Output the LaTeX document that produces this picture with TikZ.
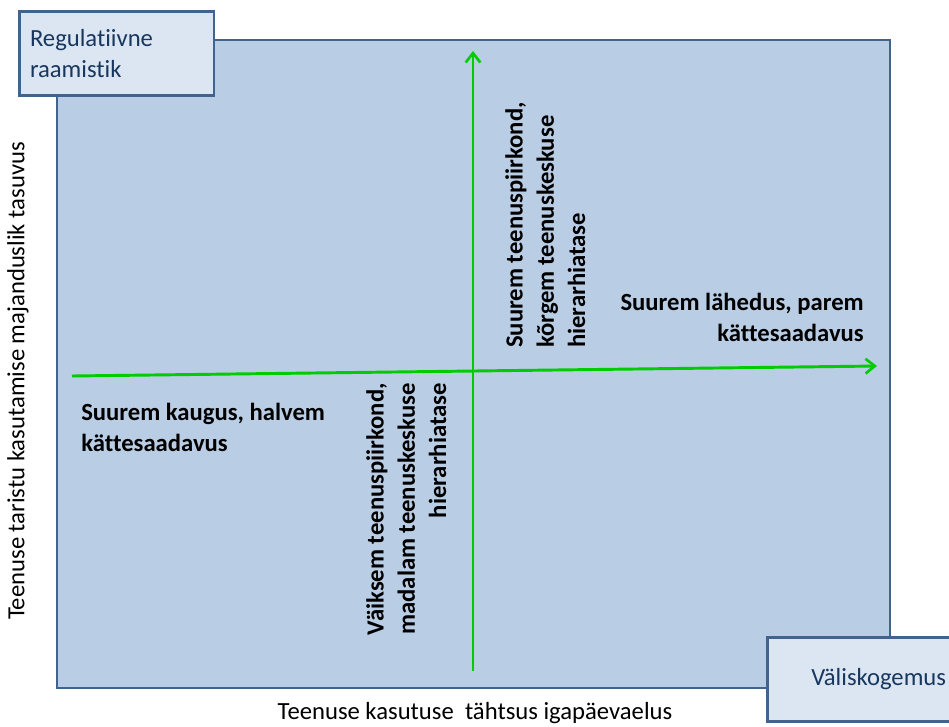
\documentclass[tikz,border=0pt]{standalone}
\usepackage{fontspec}
\setmainfont[Ligatures=NoCommon]{Carlito}
\usetikzlibrary{arrows.meta}
\definecolor{panelfill}{HTML}{B9CDE5}
\definecolor{panelline}{HTML}{41648F}
\definecolor{boxfill}{HTML}{DCE6F2}
\definecolor{boxtext}{HTML}{17375E}
\definecolor{axisgreen}{RGB}{0,204,0}
\tikzset{
  infobox/.style={draw=panelline, line width=2pt, fill=boxfill, text=boxtext,
    font=\fontsize{18.5}{23.5}\selectfont, minimum height=63pt},
  axisarrow/.style={draw=axisgreen, line width=2.2pt,
    -{Straight Barb[length=7pt, width=11pt, line width=2pt]}},
  quadtext/.style={font=\bfseries\fontsize{18.5}{23.5}\selectfont, inner sep=0pt},
  sidelabel/.style={font=\fontsize{18.5}{23.5}\selectfont, inner sep=0pt}
}
\begin{document}
\begin{tikzpicture}[x=0.75pt, y=-0.75pt]
    \useasboundingbox (0, 0) rectangle (949, 727);
    \clip (0, 0) rectangle (949, 727);
        % main panel
        \draw[panelline, line width=2pt, fill=panelfill] (57, 40) rectangle (890, 688);
        % axes
        \coordinate (xstart) at (72, 376);
        \coordinate (xend) at (877, 366);
        \coordinate (ystart) at (473, 671);
        \coordinate (yend) at (473, 51);
        \draw[axisarrow] (xstart) to (xend);
        \draw[axisarrow] (ystart) to (yend);
        % corner boxes
        \node[infobox, anchor=north west, minimum width=145.5pt, text width=130pt,
              align=left, inner xsep=8pt, inner ysep=11pt] (regbox) at (18, 10)
              {Regulatiivne\\raamistik};
        \node[infobox, anchor=north west, minimum width=150pt, inner sep=0pt] (valbox) at (766, 636) {};
        \node[font=\fontsize{18.5}{23.5}\selectfont, text=boxtext, anchor=west, inner sep=0pt]
              (valtext) at (811, 679) {Väliskogemus};
        % quadrant texts
        \node[quadtext, anchor=north east, align=right] (nearer) at (864, 293)
              {Suurem lähedus, parem\\kättesaadavus};
        \node[quadtext, anchor=north west, align=left] (farther) at (81, 403)
              {Suurem kaugus, halvem\\kättesaadavus};
        \node[quadtext, rotate=90, anchor=north west, align=left] (higher) at (505, 348)
              {Suurem teenuspiirkond,\\kõrgem teenuskeskuse\\hierarhiatase};
        \node[quadtext, rotate=90, anchor=north east, align=right] (lower) at (366, 383)
              {Väiksem teenuspiirkond,\\madalam teenuskeskuse\\hierarhiatase};
        % axis labels
        \node[sidelabel, rotate=90] (ylabel) at (18, 381)
              {Teenuse taristu kasutamise majanduslik tasuvus};
        \node[sidelabel] (xlabel) at (475, 713)
              {Teenuse kasutuse \ tähtsus igapäevaelus};
\end{tikzpicture}
\end{document}
